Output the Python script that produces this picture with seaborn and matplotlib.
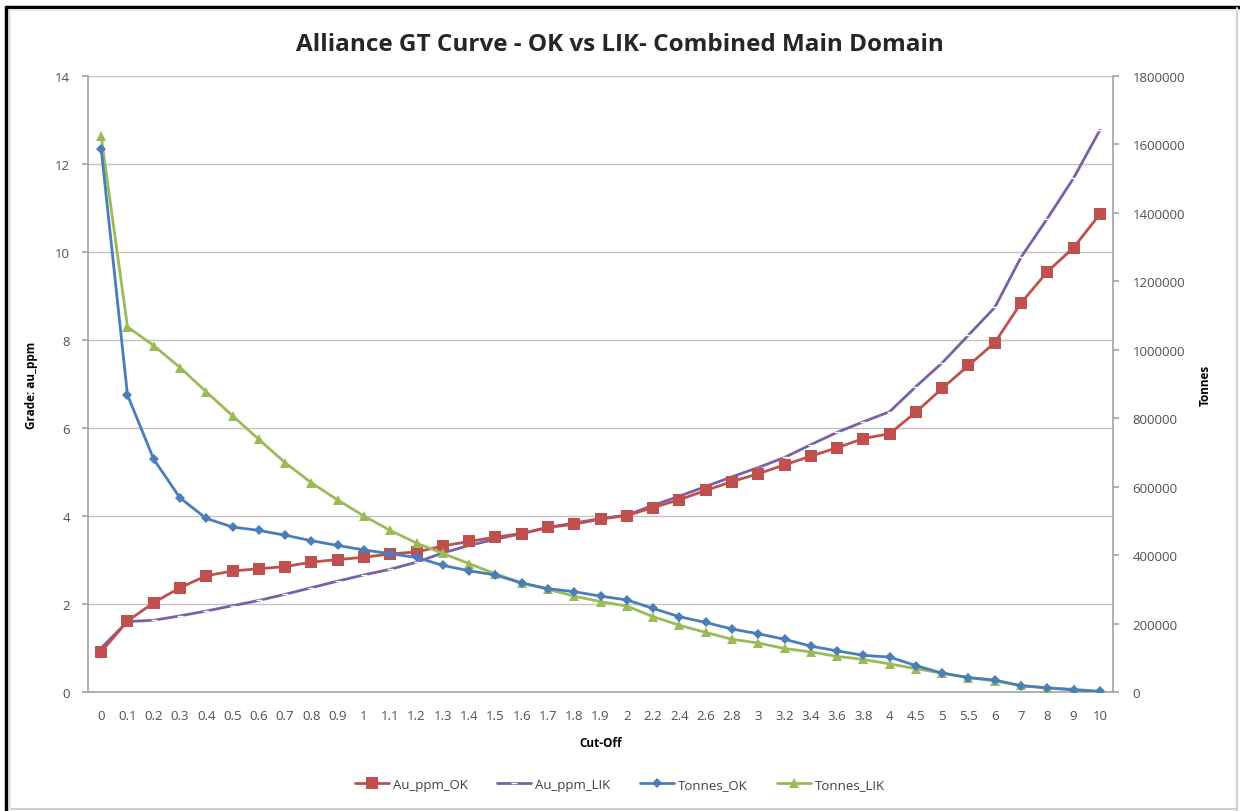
import matplotlib
matplotlib.use("Agg")
import matplotlib.pyplot as plt
from matplotlib.lines import Line2D
import seaborn as sns
import pandas as pd

cutoffs = ["0", "0.1", "0.2", "0.3", "0.4", "0.5", "0.6", "0.7", "0.8", "0.9", "1",
           "1.1", "1.2", "1.3", "1.4", "1.5", "1.6", "1.7", "1.8", "1.9", "2",
           "2.2", "2.4", "2.6", "2.8", "3", "3.2", "3.4", "3.6", "3.8", "4",
           "4.5", "5", "5.5", "6", "7", "8", "9", "10"]

au_ppm_ok = [0.91, 1.61, 2.03, 2.37, 2.64, 2.75, 2.80, 2.85, 2.95, 3.01, 3.06,
             3.14, 3.18, 3.32, 3.42, 3.52, 3.60, 3.74, 3.81, 3.93, 4.01,
             4.19, 4.37, 4.58, 4.78, 4.96, 5.16, 5.36, 5.55, 5.76, 5.87,
             6.36, 6.90, 7.42, 7.94, 8.84, 9.55, 10.10, 10.86]

au_ppm_lik = [1.00, 1.60, 1.63, 1.73, 1.84, 1.96, 2.08, 2.22, 2.37, 2.52, 2.66,
              2.79, 2.95, 3.16, 3.33, 3.47, 3.60, 3.74, 3.84, 3.94, 4.02,
              4.24, 4.45, 4.67, 4.89, 5.10, 5.33, 5.62, 5.90, 6.14, 6.37,
              6.94, 7.48, 8.11, 8.74, 9.88, 10.76, 11.68, 12.77]

tonnes_ok = [1587000, 868000, 680000, 567000, 507000, 482000, 472000, 458000, 442000, 428000, 415000,
             404000, 393000, 370000, 354000, 342000, 318000, 302000, 293000, 280000, 269000,
             244000, 220000, 203000, 184000, 170000, 154000, 134000, 120000, 107000, 102000,
             77000, 55000, 42000, 35000, 18000, 12000, 6000, 1500]

tonnes_lik = [1624000, 1067000, 1012000, 948000, 877000, 807000, 738000, 670000, 611000, 561000, 514000,
              472000, 435000, 405000, 375000, 345000, 319000, 300000, 280000, 264000, 251000,
              220000, 195000, 174000, 154000, 143000, 127000, 117000, 104000, 95000, 82000,
              68000, 55000, 42000, 32000, 19000, 12000, 8000, 1500]

title = "Alliance GT Curve - OK vs LIK- Combined Main Domain"

df = pd.DataFrame({"Cut-Off": cutoffs, "Au_ppm_OK": au_ppm_ok, "Au_ppm_LIK": au_ppm_lik,
                   "Tonnes_OK": tonnes_ok, "Tonnes_LIK": tonnes_lik})

sns.set_theme(style="white")
plt.rcParams["font.family"] = ["Open Sans", "DejaVu Sans"]

RED, PURPLE, BLUE, GREEN = "#C0504D", "#7B5FA8", "#4A7EBB", "#9BBB59"
TICK = "#505050"
GRID = "#C3C3C3"

fig = plt.figure(figsize=(12.4, 8.12), dpi=100)
ax = fig.add_axes([0.071, 0.1466, 0.8266, 0.7586])
ax2 = ax.twinx()

sns.lineplot(data=df, x="Cut-Off", y="Au_ppm_OK", ax=ax, color=RED, marker="s",
             markersize=8, markeredgewidth=0, linewidth=2, label="Au_ppm_OK", zorder=4)
sns.lineplot(data=df, x="Cut-Off", y="Au_ppm_LIK", ax=ax, color=PURPLE, marker="_",
             markersize=4, markeredgewidth=1, linewidth=2, label="Au_ppm_LIK", zorder=3)
sns.lineplot(data=df, x="Cut-Off", y="Tonnes_OK", ax=ax2, color=BLUE, marker="D",
             markersize=5, markeredgewidth=0, linewidth=2, label="Tonnes_OK", zorder=3)
sns.lineplot(data=df, x="Cut-Off", y="Tonnes_LIK", ax=ax2, color=GREEN, marker="^",
             markersize=6.5, markeredgewidth=0, linewidth=2, label="Tonnes_LIK", zorder=2)

ax.set_xlim(-0.5, len(cutoffs) - 0.5)
ax.set_ylim(0, 14)
ax.set_yticks(range(0, 15, 2))
ax2.set_ylim(0, 1800000)
ax2.set_yticks(range(0, 1800001, 200000))
ax2.set_yticklabels([str(v) for v in range(0, 1800001, 200000)])

ax.set_xticks(range(len(cutoffs)))
ax.set_xticklabels(cutoffs)
ax.set_xticks([i + 0.5 for i in range(-1, len(cutoffs))], minor=True)

ax.yaxis.grid(True, color=GRID, linewidth=1)
ax.set_axisbelow(True)

for a in (ax, ax2):
    for s in a.spines.values():
        s.set_visible(False)
ax.spines["left"].set_visible(True)
ax.spines["left"].set_color("#A6A6A6")
ax.spines["bottom"].set_visible(True)
ax.spines["bottom"].set_color("#A6A6A6")
ax2.spines["right"].set_visible(True)
ax2.spines["right"].set_color("#A6A6A6")

ax.tick_params(axis="x", which="major", length=0, labelsize=9.5, labelcolor=TICK, pad=12)
ax.tick_params(axis="x", which="minor", length=4, color="#A6A6A6", direction="out")
ax.tick_params(axis="y", length=4, color="#A6A6A6", labelsize=9.5, labelcolor=TICK, pad=9, left=True)
ax2.tick_params(axis="y", length=4, color="#A6A6A6", labelsize=9.5, labelcolor=TICK, pad=10, right=True)

ax.set_xlabel("Cut-Off", fontsize=8.5, fontweight="bold", color="black", labelpad=10)
ax.set_ylabel("Grade: au_ppm", fontsize=8.5, fontweight="bold", color="black", labelpad=12)
ax2.set_ylabel("Tonnes", fontsize=8.5, fontweight="bold", color="black", labelpad=10)

h1, l1 = ax.get_legend_handles_labels()
h2, l2 = ax2.get_legend_handles_labels()
ax.get_legend().remove()
ax2.get_legend().remove()
fig.legend(h1 + h2, l1 + l2, loc="center", bbox_to_anchor=(0.5, 0.033), ncol=4, frameon=False,
           fontsize=9.5, labelcolor="#404040", handlelength=2.6, columnspacing=2.2, handletextpad=0.3)

fig.text(0.5, 0.944, title, ha="center", va="center", fontsize=17.5, fontweight="bold",
         color="#262626", family=["Open Sans", "DejaVu Sans"])

# outer frame
W, H = 1240, 812
fig.add_artist(Line2D([6 / W, 6 / W], [0, 1 - 8 / H], color="black", linewidth=2.5, transform=fig.transFigure))
fig.add_artist(Line2D([6 / W, 1], [1 - 8 / H, 1 - 8 / H], color="black", linewidth=2.5, transform=fig.transFigure))
fig.add_artist(Line2D([1237 / W, 1237 / W], [0, 1 - 9 / H], color="#D0D0D0", linewidth=1.5, transform=fig.transFigure))
fig.add_artist(Line2D([10 / W, 1237 / W], [2 / H, 2 / H], color="#D0D0D0", linewidth=1.5, transform=fig.transFigure))
fig.add_artist(Line2D([10 / W, 10 / W], [2 / H, 1 - 11 / H], color="#E6E6E6", linewidth=1.5, transform=fig.transFigure))
fig.add_artist(Line2D([10 / W, 1237 / W], [1 - 11 / H, 1 - 11 / H], color="#E6E6E6", linewidth=1.5, transform=fig.transFigure))

fig.savefig("out.png", dpi=100)
